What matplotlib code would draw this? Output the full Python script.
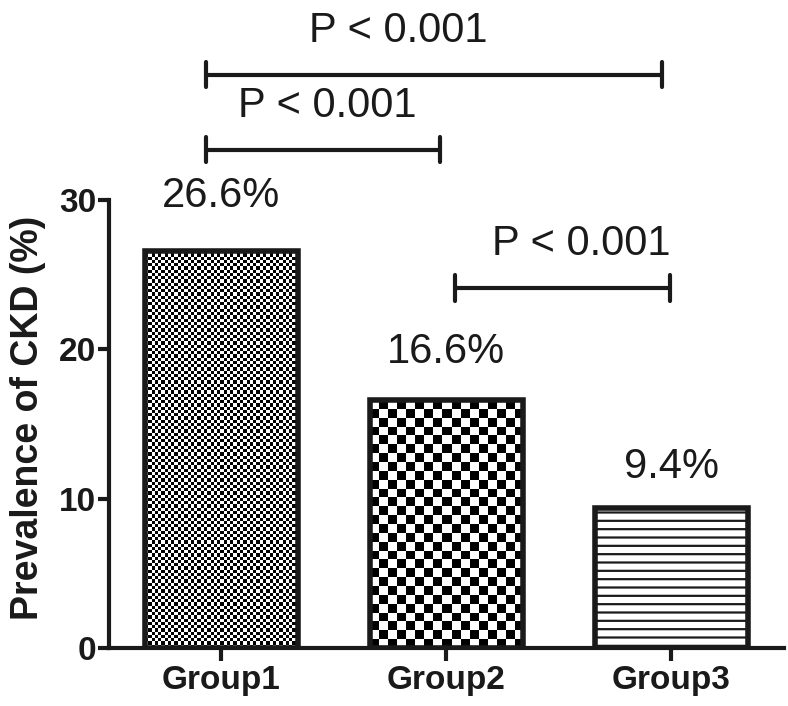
import matplotlib.pyplot as plt
import numpy as np

plt.rcParams['font.family'] = ['Liberation Sans', 'DejaVu Sans']
plt.rcParams['hatch.linewidth'] = 1.6

groups = ['Group1', 'Group2', 'Group3']
prevalence = [26.6, 16.6, 9.4]
value_labels = ['26.6%', '16.6%', '9.4%']
comparisons = [(0, 2), (0, 1), (1, 2)]
p_labels = ['P < 0.001', 'P < 0.001', 'P < 0.001']


def checker_fill(ax, patch, cell_px):
    # checkerboard texture clipped to the bar
    x0, y0 = patch.get_x(), patch.get_y()
    w, h = patch.get_width(), patch.get_height()
    (px0, py0), (px1, py1) = ax.transData.transform([(x0, y0), (x0 + w, y0 + h)])
    nx = max(1, int(round((px1 - px0) / cell_px)))
    ny = max(1, int(round((py1 - py0) / cell_px)))
    board = np.add.outer(np.arange(ny), np.arange(nx)) % 2
    im = ax.imshow(board, cmap='gray', vmin=0, vmax=1, extent=(x0, x0 + w, y0, y0 + h),
                   origin='lower', aspect='auto', interpolation='nearest', zorder=2)
    im.set_clip_path(patch)


fig = plt.figure(figsize=(7.88, 7.06), dpi=100)
ax = fig.add_axes([108.5 / 788, 1 - 648 / 706, (784 - 108.5) / 788, 648 / 706])
ax.set_xlim(-0.5, 2.5)
ax.set_ylim(0, 43.4)
ax.set_autoscale_on(False)

x = np.arange(len(groups))
bars = ax.bar(x, prevalence, width=0.68, facecolor='none', edgecolor='#1a1a1a',
              linewidth=4, zorder=3)
checker_fill(ax, bars[0], 3.25)
checker_fill(ax, bars[1], 8.8)
ax.bar(x[2], prevalence[2] - 0.25, width=0.68, facecolor='white', edgecolor='#1a1a1a',
       linewidth=0, hatch='--', zorder=2)

# value labels above bars
label_offsets = [31.5, 26.5, 21.5]
for i, (v, lab) in enumerate(zip(prevalence, value_labels)):
    ax.annotate(lab, (x[i], v), xytext=(0, label_offsets[i]), textcoords='offset points',
                ha='center', va='baseline', fontsize=30, color='#1a1a1a')

# significance brackets
bracket_y = [38.38, 33.36, 24.11]
end_shift = [(-0.067, -0.04), (-0.067, -0.027), (0.04, -0.005)]
text_shift = [-0.16, 0.02, 0.08]
for (a, b), lab, y, (sa, sb), ts in zip(comparisons, p_labels, bracket_y, end_shift, text_shift):
    xa, xb = x[a] + sa, x[b] + sb
    ax.plot([xa, xb], [y, y], color='#1a1a1a', lw=3, solid_capstyle='round', clip_on=False)
    for xe in (xa, xb):
        ax.plot([xe, xe], [y - 0.84, y + 0.84], color='#1a1a1a', lw=3,
                solid_capstyle='round', clip_on=False)
    ax.annotate(lab, ((xa + xb) / 2 + ts, y), xytext=(0, 23.8), textcoords='offset points',
                ha='center', va='baseline', fontsize=30, color='#1a1a1a')

ax.spines['top'].set_visible(False)
ax.spines['right'].set_visible(False)
ax.spines['left'].set_bounds(0, 30)
for side in ('left', 'bottom'):
    ax.spines[side].set_linewidth(3)
    ax.spines[side].set_color('#1a1a1a')

ax.set_yticks([0, 10, 20, 30])
ax.set_xticks(x)
ax.set_xticklabels(groups)
ax.tick_params(axis='y', width=3, length=8, pad=1, labelsize=24, color='#1a1a1a',
               labelcolor='#1a1a1a')
ax.tick_params(axis='x', width=3, length=9, pad=3, labelsize=24, color='#1a1a1a',
               labelcolor='#1a1a1a')
for t in ax.get_xticklabels() + ax.get_yticklabels():
    t.set_fontweight('bold')

fig.text(28 / 788, 1 - 418 / 706, 'Prevalence of CKD (%)', rotation=90, ha='center',
         va='center', fontsize=27, fontweight='bold', color='#1a1a1a')

plt.savefig('out.png', dpi=100)
